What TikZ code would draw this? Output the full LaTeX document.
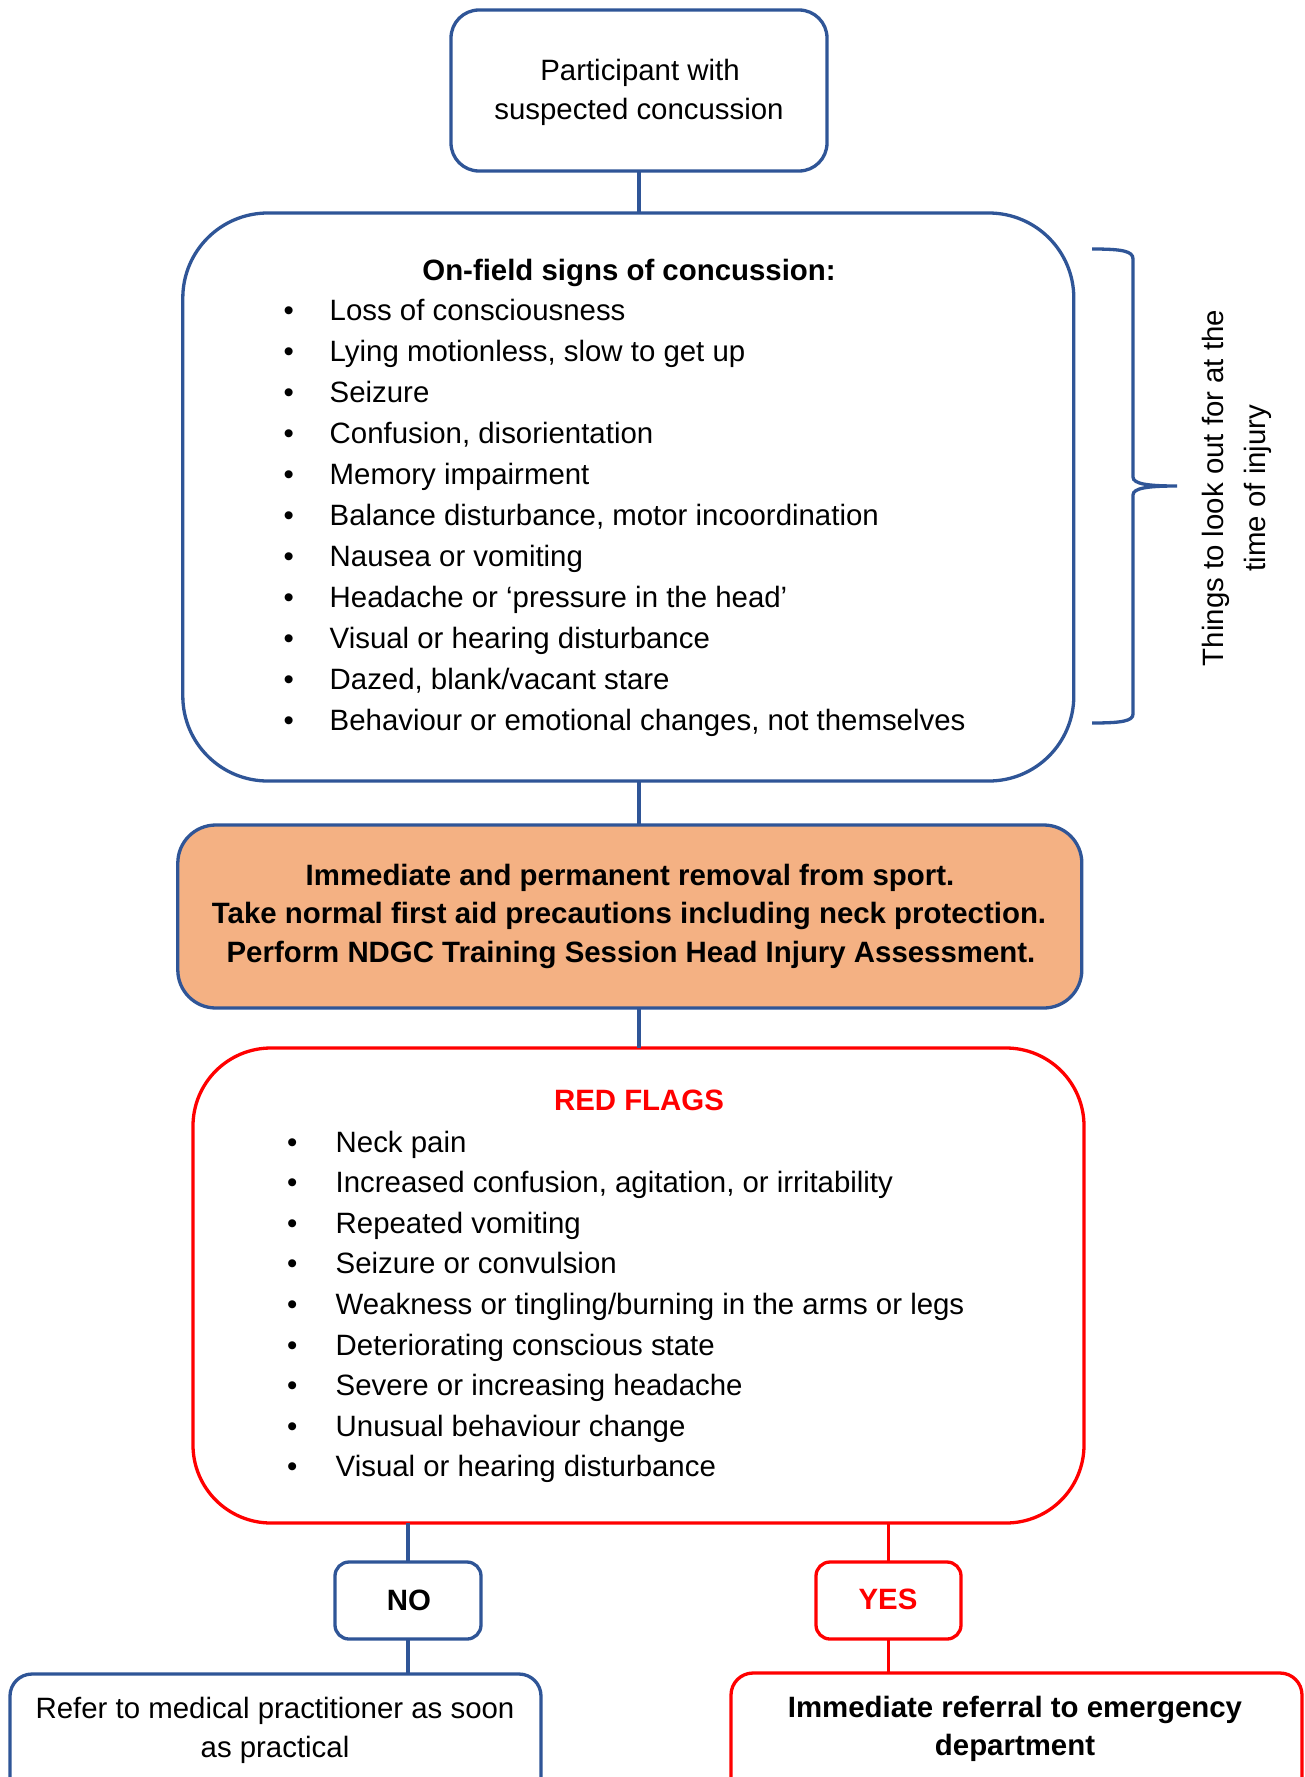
\documentclass[tikz,border=0pt]{standalone}
\usepackage{fontspec}
\setmainfont{Liberation Sans}
\definecolor{navy}{RGB}{47,85,151}
\definecolor{flagred}{RGB}{255,0,0}
\definecolor{peach}{RGB}{244,177,131}
\newcommand\bodyfont{\fontsize{29.4}{40}\selectfont}
\begin{document}
\begin{tikzpicture}[x=1pt,y=-1pt, font=\bodyfont,
  box/.style={draw, line width=3.3pt, inner sep=0pt, outer sep=0pt},
  bluebox/.style={box, draw=navy},
  redbox/.style={box, draw=flagred},
  link/.style={line width=3.3pt, draw=navy},
  redlink/.style={line width=3.3pt, draw=flagred},
  txt/.style={inner sep=0pt, anchor=base},
  boldtxt/.style={txt, font=\bodyfont\bfseries},
  item/.style={inner sep=0pt, anchor=base west}]
\useasboundingbox (0,0) rectangle (1305,1777);
\clip (0,0) rectangle (1305,1777);
\fill[white] (0,0) rectangle (1305,1777);

% boxes
\node[bluebox, rounded corners=28pt, minimum width=376pt, minimum height=161pt] (top) at (639,90.5) {};
\node[bluebox, rounded corners=85pt, minimum width=891pt, minimum height=568pt] (signs) at (628.3,497) {};
\node[bluebox, fill=peach, rounded corners=38pt, minimum width=904pt, minimum height=183pt] (removal) at (629.8,916.5) {};
\node[redbox, rounded corners=78pt, minimum width=891pt, minimum height=475pt] (flags) at (638.5,1285.5) {};
\node[bluebox, rounded corners=14pt, minimum width=146pt, minimum height=77pt] (no) at (408,1600.5) {};
\node[redbox, rounded corners=14pt, minimum width=145pt, minimum height=77pt] (yes) at (888.5,1600.5) {};
\node[bluebox, rounded corners=22pt, minimum width=531pt, minimum height=141pt] (refer) at (275.5,1744.5) {};
\node[redbox, rounded corners=22pt, minimum width=571pt, minimum height=142pt] (emerg) at (1016.5,1744) {};

% connectors
\draw[link] (top.south) -- (top.south |- signs.north);
\draw[link] (signs.south -| top.south) -- (top.south |- removal.north);
\draw[link] (removal.south -| top.south) -- (top.south |- flags.north);
\draw[link] (no.north |- flags.south) -- (no.north);
\draw[redlink] (yes.north |- flags.south) -- (yes.north);
\draw[link] (no.south) -- (no.south |- refer.north);
\draw[redlink] (yes.south) -- (yes.south |- emerg.north);

% top text
\node[txt] (t1) at (640,80.5) {Participant with};
\node[txt] (t2) at (639,119) {suspected concussion};

% signs
\node[boldtxt] (stitle) at (629,280) {On-field signs of concussion:};
\foreach \t [count=\i from 0] in {Loss of consciousness,{Lying motionless, slow to get up},Seizure,{Confusion, disorientation},Memory impairment,{Balance disturbance, motor incoordination},Nausea or vomiting,Headache or ‘pressure in the head’,Visual or hearing disturbance,{Dazed, blank/vacant stare},{Behaviour or emotional changes, not themselves}}{
  \node[item] (sb\i) at (283.5,{320+41*\i}) {•};
  \node[item] (s\i) at (329.5,{320+41*\i}) {\t};
}

% brace
\draw[navy, line width=3.3pt] (1092,249) .. controls (1122,249) and (1133,251) .. (1133,259)
  -- (1133,477) .. controls (1133,484) and (1148,486) .. (1177,486)
  .. controls (1148,486) and (1133,488) .. (1133,495)
  -- (1133,714) .. controls (1133,721) and (1122,723) .. (1092,723);
\node[txt, rotate=90] (look1) at (1223,488) {Things to look out for at the};
\node[txt, rotate=90] (look2) at (1265,488) {time of injury};

% removal
\node[boldtxt] (r1) at (630,885) {Immediate and permanent removal from sport.};
\node[boldtxt] (r2) at (629,923.5) {Take normal first aid precautions including neck protection.};
\node[boldtxt] (r3) at (631,962) {Perform NDGC Training Session Head Injury Assessment.};

% red flags
\node[boldtxt, text=flagred] (ftitle) at (639,1110) {RED FLAGS};
\foreach \t [count=\i from 0] in {Neck pain,{Increased confusion, agitation, or irritability},Repeated vomiting,Seizure or convulsion,Weakness or tingling/burning in the arms or legs,Deteriorating conscious state,Severe or increasing headache,Unusual behaviour change,Visual or hearing disturbance}{
  \node[item] (fb\i) at (287,{1152+40.6*\i}) {•};
  \node[item] (f\i) at (335.5,{1152+40.6*\i}) {\t};
}

% yes / no
\node[boldtxt] (notext) at (409,1610) {NO};
\node[boldtxt, text=flagred] (yestext) at (888,1609) {YES};

% outcomes
\node[txt] (o1) at (275,1718) {Refer to medical practitioner as soon};
\node[txt] (o2) at (275,1757) {as practical};
\node[boldtxt] (e1) at (1015,1717) {Immediate referral to emergency};
\node[boldtxt] (e2) at (1015,1755) {department};
\end{tikzpicture}
\end{document}
